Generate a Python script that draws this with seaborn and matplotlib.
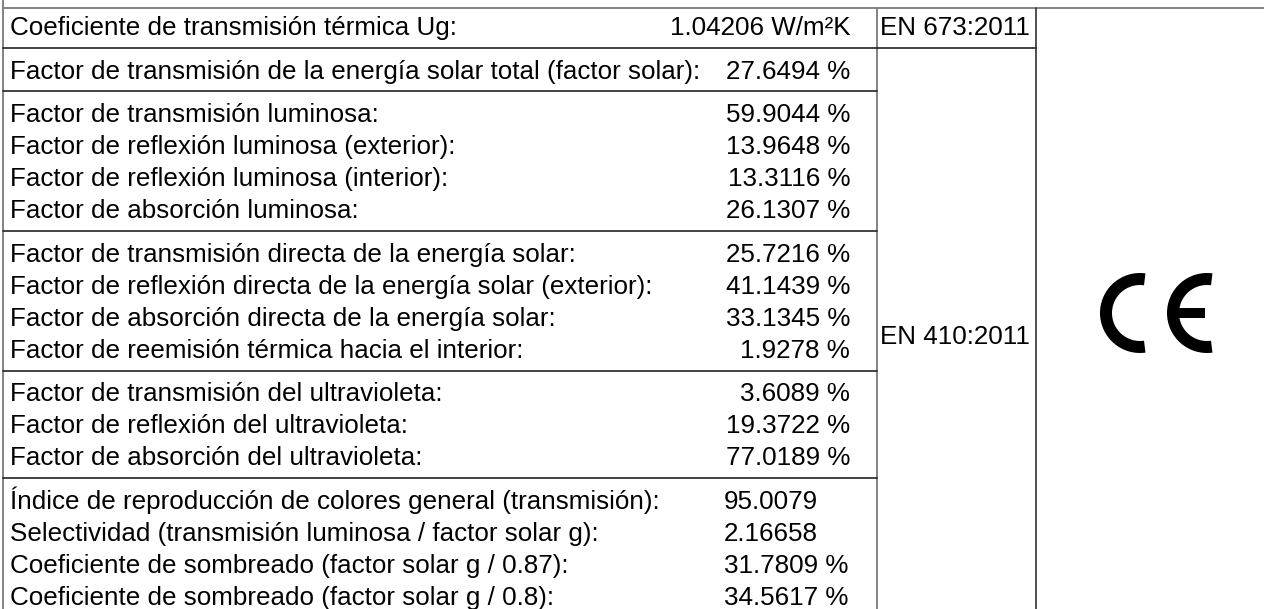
import numpy as np
import pandas as pd
import seaborn as sns
import matplotlib.pyplot as plt
from matplotlib.patches import Arc, Rectangle

ug_labels = ["Coeficiente de transmisión térmica Ug:"]
ug_values = [1.04206]
ug_units = [" W/m²K"]

solar_labels = ["Factor de transmisión de la energía solar total (factor solar):"]
solar_values = [27.6494]
solar_units = [" %"]

lum_labels = ["Factor de transmisión luminosa:",
              "Factor de reflexión luminosa (exterior):",
              "Factor de reflexión luminosa (interior):",
              "Factor de absorción luminosa:"]
lum_values = [59.9044, 13.9648, 13.3116, 26.1307]
lum_units = [" %", " %", " %", " %"]

direct_labels = ["Factor de transmisión directa de la energía solar:",
                 "Factor de reflexión directa de la energía solar (exterior):",
                 "Factor de absorción directa de la energía solar:",
                 "Factor de reemisión térmica hacia el interior:"]
direct_values = [25.7216, 41.1439, 33.1345, 1.9278]
direct_units = [" %", " %", " %", " %"]

uv_labels = ["Factor de transmisión del ultravioleta:",
             "Factor de reflexión del ultravioleta:",
             "Factor de absorción del ultravioleta:"]
uv_values = [3.6089, 19.3722, 77.0189]
uv_units = [" %", " %", " %"]

extra_labels = ["Índice de reproducción de colores general (transmisión):",
                "Selectividad (transmisión luminosa / factor solar g):",
                "Coeficiente de sombreado (factor solar g / 0.87):",
                "Coeficiente de sombreado (factor solar g / 0.8):"]
extra_values = [95.0079, 2.16658, 31.7809, 34.5617]
extra_units = ["", "", " %", " %"]

standards = ["EN 673:2011", "EN 410:2011"]

groups = [
    (ug_labels, ug_values, ug_units, "right"),
    (solar_labels, solar_values, solar_units, "right"),
    (lum_labels, lum_values, lum_units, "right"),
    (direct_labels, direct_values, direct_units, "right"),
    (uv_labels, uv_values, uv_units, "right"),
    (extra_labels, extra_values, extra_units, "left"),
]

# Estilo
sns.set_theme(style="white")
plt.rcParams["font.family"] = ["Liberation Sans", "DejaVu Sans"]

W, H = 1264, 609
fig = plt.figure(figsize=(W / 100, H / 100), dpi=100)
ax = fig.add_axes([0, 0, 1, 1])
ax.set_xlim(0, W)
ax.set_ylim(H, 0)
ax.axis("off")

fs = 18.7          # ~26 px
pitch = 32
gap = 11.6
x_left, x_col1, x_col2 = 3, 877, 1036
line_c = "#222222"
grey_c = "#7a7a7a"

# borde superior y vertical izquierdo
ax.plot([x_left, W], [8, 8], color=grey_c, lw=1.3)
ax.plot([x_left, x_left], [0, H], color=grey_c, lw=1.3)
ax.plot([x_col1, x_col1], [8, H], color=grey_c, lw=1.3)
ax.plot([x_col2, x_col2], [8, H], color=line_c, lw=1.1)

y = 26
for gi, (labels, values, units, align) in enumerate(groups):
    for lab, val, unit in zip(labels, values, units):
        ax.text(10, y + 9, lab, fontsize=fs, ha="left", va="baseline", color="black")
        txt = f"{val}{unit}"
        if align == "right":
            ax.text(850, y + 9, txt, fontsize=fs, ha="right", va="baseline", color="black")
        else:
            ax.text(724, y + 9, txt, fontsize=fs, ha="left", va="baseline", color="black")
        last = y
        y += pitch
    y += gap
    if gi < len(groups) - 1:
        yl = last + (pitch + gap) / 2
        x_end = x_col2 if gi == 0 else x_col1
        ax.plot([x_left, x_end], [yl, yl], color=line_c, lw=1.2)

ax.text(880, 26 + 9, standards[0], fontsize=fs, ha="left", va="baseline", color="black")
ax.text(880, 335 + 9, standards[1], fontsize=fs, ha="left", va="baseline", color="black")

# marca CE
cy = 313
r_out, stroke = 40, 12
r_mid = r_out - stroke / 2
lw_pt = stroke * 72 / 100
for cx in (1140, 1207):
    ax.add_patch(Arc((cx, cy), 2 * r_mid, 2 * r_mid, theta1=82, theta2=278,
                     lw=lw_pt, color="black", capstyle="butt"))
ax.add_patch(Rectangle((1207 - r_out + 2, cy - 5), r_out - 4, 10, color="black", lw=0))

fig.savefig("out.png", dpi=100)
